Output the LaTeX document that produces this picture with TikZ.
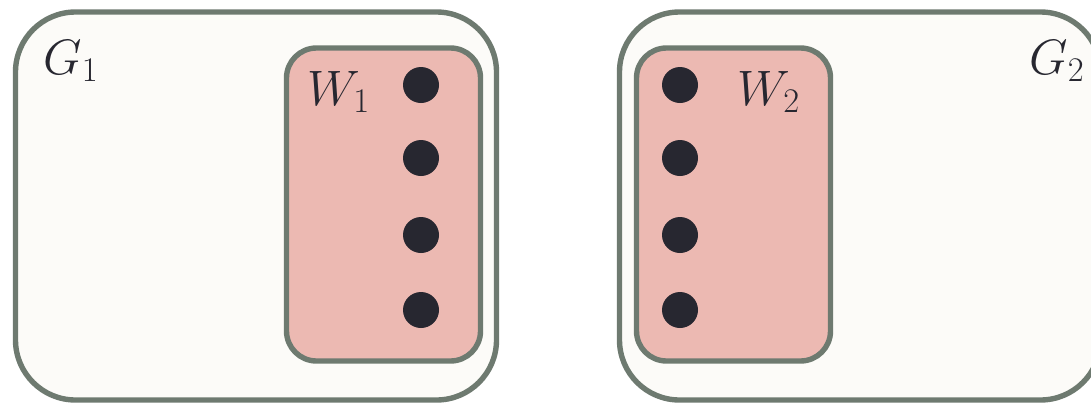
\documentclass[tikz,border=0pt]{standalone}
\usepackage{tikz}
\definecolor{boxline}{HTML}{6E7A70}
\definecolor{boxfill}{HTML}{FCFBF8}
\definecolor{setfill}{HTML}{ECB9B2}
\definecolor{dotcol}{HTML}{272730}
\begin{document}
\begin{tikzpicture}[x=0.5pt,y=-0.5pt,every node/.style={font=\fontsize{27}{32}\selectfont,text=dotcol},
  graphbox/.style={draw=boxline,fill=boxfill,line width=2.7pt,rounded corners=30pt,minimum width=240.5pt,minimum height=194pt,inner sep=0pt},
  setbox/.style={draw=boxline,fill=setfill,line width=2.7pt,rounded corners=15pt,minimum width=97pt,minimum height=156.5pt,inner sep=0pt},
  vtx/.style={circle,fill=dotcol,minimum size=18pt,inner sep=0pt}]
\useasboundingbox (0,0) rectangle (1091,402);
\node[graphbox] (g1) at (256,206) {};
\node[graphbox] (g2) at (860,206) {};
\node[setbox] (w1) at (383.5,204.5) {};
\node[setbox] (w2) at (733.5,204.5) {};
\foreach \i/\y in {1/85,2/158,3/235,4/310} {
  \node[vtx] (a\i) at (421,\y) {};
  \node[vtx] (b\i) at (680,\y) {};
}
\node[anchor=base west,inner sep=0pt] (lg1) at (43,74) {$G_1$};
\node[anchor=base west,inner sep=0pt] (lw1) at (307,105) {$W_1$};
\node[anchor=base west,inner sep=0pt] (lw2) at (737,105) {$W_2$};
\node[anchor=base west,inner sep=0pt] (lg2) at (1029,74) {$G_2$};
\end{tikzpicture}
\end{document}
